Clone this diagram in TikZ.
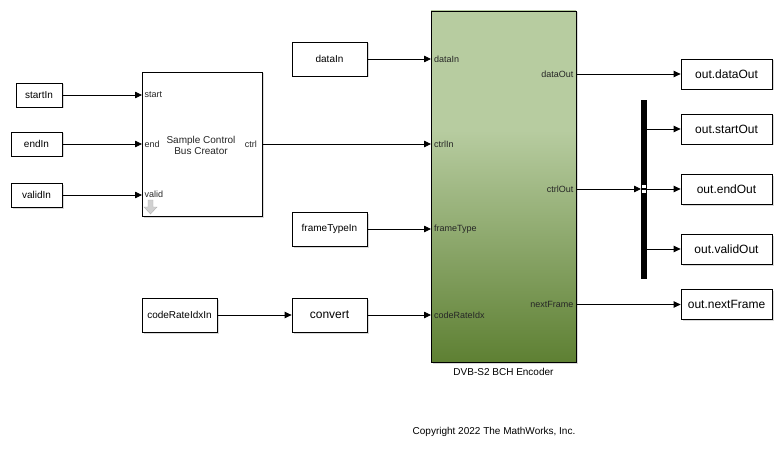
\documentclass[tikz,border=0pt]{standalone}
\usepackage{fontspec}
\setmainfont{Liberation Sans}
\usetikzlibrary{arrows.meta,shadows}
\definecolor{dvblight}{RGB}{183,204,160}
\definecolor{dvbdark}{RGB}{94,128,51}
\pgfdeclareverticalshading{dvbshade}{100bp}{color(0bp)=(dvbdark); color(25bp)=(dvbdark); color(58bp)=(dvblight); color(100bp)=(dvblight)}
\tikzset{
  blk/.style={draw=black, line width=0.8pt, fill=white, inner sep=0pt,
    drop shadow={shadow xshift=1.5pt, shadow yshift=-1.5pt, opacity=0.3},
    font=\fontsize{10}{12}\selectfont},
  bigtxt/.style={font=\fontsize{12}{14}\selectfont},
  portl/.style={font=\fontsize{9}{10}\selectfont, text=black!85, inner sep=0pt, anchor=west},
  portr/.style={font=\fontsize{9}{10}\selectfont, text=black!85, inner sep=0pt, anchor=east},
  conn/.style={line width=0.8pt, -{Triangle[length=7pt,width=6.5pt]}},
}
\begin{document}
\begin{tikzpicture}[x=1pt,y=-1pt]
\useasboundingbox (0,0) rectangle (783,449);

% source blocks
\node[blk, minimum width=46pt, minimum height=24pt] (startIn) at (39,95) {startIn};
\node[blk, minimum width=51pt, minimum height=24pt] (endIn) at (36.5,144) {endIn};
\node[blk, minimum width=51pt, minimum height=24pt] (validIn) at (36.5,195) {validIn};
\node[blk, minimum width=75pt, minimum height=34pt] (dataIn) at (329.5,59) {dataIn};
\node[blk, minimum width=75pt, minimum height=34pt] (frameTypeIn) at (329.5,229) {frameTypeIn};
\node[blk, minimum width=75pt, minimum height=34pt] (codeRateIdxIn) at (179.5,315) {codeRateIdxIn};
\node[blk, bigtxt, minimum width=75pt, minimum height=34pt] (convert) at (329.5,315) {convert};

% sample control bus creator
\node[blk, minimum width=120pt, minimum height=144pt] (sc) at (202,144) {};
\node[font=\fontsize{10}{11}\selectfont, text=black!85, align=center, inner sep=0pt] (sctxt) at (201,145.5) {Sample Control\\Bus Creator};
\coordinate (sc-start) at (142,95);
\coordinate (sc-end) at (142,144);
\coordinate (sc-valid) at (142,195);
\coordinate (sc-ctrl) at (262,144);
\node[portl] (l-start) at (144.5,95) {start};
\node[portl] (l-end) at (144.5,144) {end};
\node[portl] (l-valid) at (144.5,194.5) {valid};
\node[portr] (l-ctrl) at (257,144) {ctrl};
% gray down arrow icon
\draw[fill=black!18, draw=black!30, line width=0.4pt] (148,200) -- (153,200) -- (153,207) -- (157,207) -- (150.5,214) -- (144,207) -- (148,207) -- cycle;

% DVB-S2 BCH encoder
\node[draw=black, line width=0.8pt, shading=dvbshade, inner sep=0pt, minimum width=145pt, minimum height=351pt,
  drop shadow={shadow xshift=1.5pt, shadow yshift=-1.5pt, opacity=0.3}] (dvb) at (503.5,186.5) {};
\node[font=\fontsize{10}{12}\selectfont, inner sep=0pt] (dvblabel) at (503.5,372) {DVB-S2 BCH Encoder};
\coordinate (dvb-dataIn) at (431,59);
\coordinate (dvb-ctrlIn) at (431,144);
\coordinate (dvb-frameType) at (431,229);
\coordinate (dvb-codeRateIdx) at (431,315);
\coordinate (dvb-dataOut) at (576,74);
\coordinate (dvb-ctrlOut) at (576,189);
\coordinate (dvb-nextFrame) at (576,304.5);
\node[portl] (l-dataIn) at (434,59) {dataIn};
\node[portl] (l-ctrlIn) at (434,144) {ctrlIn};
\node[portl] (l-frameType) at (434,229) {frameType};
\node[portl] (l-codeRateIdx) at (434,315) {codeRateIdx};
\node[portr] (l-dataOut) at (573.5,74) {dataOut};
\node[portr] (l-ctrlOut) at (573.5,189) {ctrlOut};
\node[portr] (l-nextFrame) at (573.5,304.5) {nextFrame};

% bus selector
\node[fill=black, inner sep=0pt, minimum width=6pt, minimum height=179pt] (bar) at (644,189.5) {};
\coordinate (bar-in) at (641,189);
\coordinate (bar-o1) at (647,129);
\coordinate (bar-o2) at (647,189);
\coordinate (bar-o3) at (647,249);
\fill[white] (642,185) rectangle (646,188.3);
\fill[white] (642,189.7) rectangle (646,193);

% sinks
\node[blk, bigtxt, minimum width=91pt, minimum height=30pt] (oData) at (726.5,74) {out.dataOut};
\node[blk, bigtxt, minimum width=91pt, minimum height=30pt] (oStart) at (726.5,129) {out.startOut};
\node[blk, bigtxt, minimum width=91pt, minimum height=30pt] (oEnd) at (726.5,189) {out.endOut};
\node[blk, bigtxt, minimum width=91pt, minimum height=30pt] (oValid) at (726.5,249) {out.validOut};
\node[blk, bigtxt, minimum width=91pt, minimum height=30pt] (oNext) at (726.5,304.5) {out.nextFrame};

% connectors
\draw[conn] (startIn.east) -- (sc-start);
\draw[conn] (endIn.east) -- (sc-end);
\draw[conn] (validIn.east) -- (sc-valid);
\draw[conn] (sc-ctrl) -- (dvb-ctrlIn);
\draw[conn] (dataIn.east) -- (dvb-dataIn);
\draw[conn] (frameTypeIn.east) -- (dvb-frameType);
\draw[conn] (codeRateIdxIn.east) -- (convert.west);
\draw[conn] (convert.east) -- (dvb-codeRateIdx);
\draw[conn] (dvb-dataOut) -- (oData.west);
\draw[conn] (dvb-ctrlOut) -- (bar-in);
\draw[conn] (bar-o1) -- (oStart.west);
\draw[conn] (bar-o2) -- (oEnd.west);
\draw[conn] (bar-o3) -- (oValid.west);
\draw[conn] (dvb-nextFrame) -- (oNext.west);

\node[font=\fontsize{10}{12}\selectfont, inner sep=0pt] (copyright) at (494,432) {Copyright 2022 The MathWorks, Inc.};
\end{tikzpicture}
\end{document}
